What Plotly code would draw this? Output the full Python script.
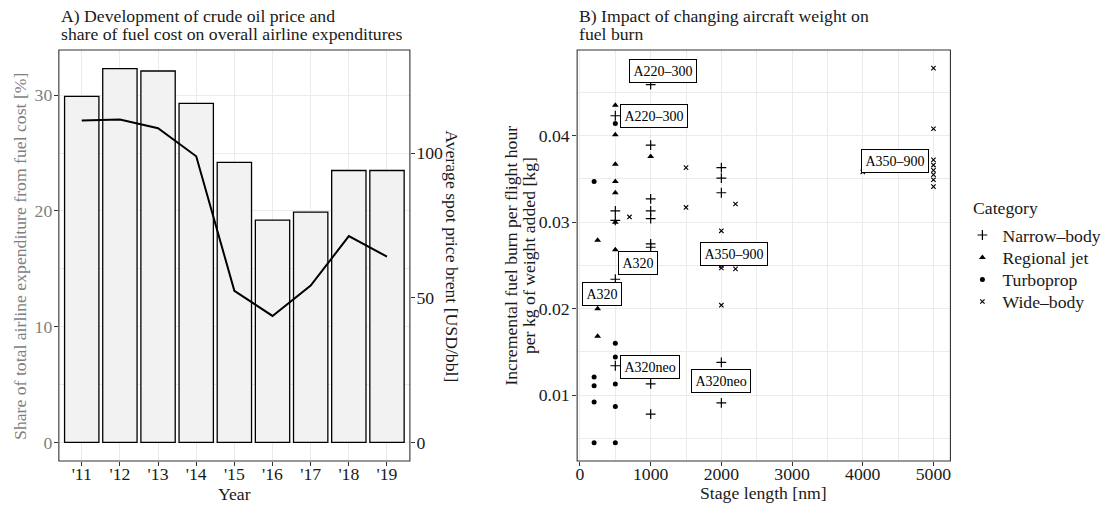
import plotly.graph_objects as go

# ---------------- Data ----------------
years = ["'11", "'12", "'13", "'14", "'15", "'16", "'17", "'18", "'19"]
fuel_share = [29.9, 32.3, 32.1, 29.3, 24.2, 19.2, 19.9, 23.5, 23.5]
brent_price = [111.3, 111.6, 108.6, 98.9, 52.4, 43.7, 54.2, 71.3, 64.2]

narrow_x = [1000, 500, 1000, 2000, 2000, 2000, 1000, 500, 1000, 1000, 500, 1000, 1000, 500, 500, 2000, 1000, 2000, 1000]
narrow_y = [0.0459, 0.0423, 0.0389, 0.0363, 0.0351, 0.0334, 0.0327, 0.0313, 0.0313, 0.0304, 0.0302,
            0.0275, 0.0271, 0.0234, 0.0134, 0.0138, 0.0113, 0.0091, 0.0078]

regional_x = [500, 500, 1000, 500, 500, 500, 500, 250, 500, 250, 250]
regional_y = [0.0435, 0.0401, 0.0376, 0.0367, 0.0347, 0.0334, 0.0300, 0.0279, 0.0268, 0.0200, 0.0168]

turbo_x = [500, 200, 500, 500, 200, 200, 500, 200, 500, 200, 500]
turbo_y = [0.0414, 0.0347, 0.0160, 0.0144, 0.0121, 0.0111, 0.0113, 0.0092, 0.0087, 0.0045, 0.0045]

wide_x = [5000, 5000, 5000, 5000, 5000, 5000, 5000, 5000, 4000, 1500, 2000, 2200, 1500, 700, 2000, 2000, 2200, 2000]
wide_y = [0.0478, 0.0408, 0.0372, 0.0366, 0.0360, 0.0355, 0.0349, 0.0341, 0.0358, 0.0363, 0.0290,
          0.0321, 0.0317, 0.0306, 0.0250, 0.0247, 0.0246, 0.0204]

categories = ["Narrow–body", "Regional jet", "Turboprop", "Wide–body"]

label_text = ["A220–300", "A220–300", "A320", "A320", "A350–900", "A350–900", "A320neo", "A320neo"]
label_x = [1173, 1047, 817, 313, 2176, 4449, 994, 1991]
label_y = [0.04745, 0.04229, 0.0253, 0.02173, 0.02634, 0.03709, 0.0133, 0.01169]

# ---------------- Styling ----------------
W, H = 1109, 507
FONT = "Liberation Serif"
FS = 17.7
GRID = "#EBEBEB"
BORDER = "#333333"
TXT = "#1A1A1A"
GREY = "#7F7F7F"


def px(x):
    return x / W


def py(y):
    return 1 - y / H


fig = go.Figure()

# Left panel: bars + line
fig.add_trace(go.Bar(
    x=years, y=fuel_share, width=0.9,
    marker=dict(color="#F2F2F2", line=dict(color="black", width=1.3)),
    xaxis="x", yaxis="y", showlegend=False))
fig.add_trace(go.Scatter(
    x=years, y=brent_price, mode="lines",
    line=dict(color="black", width=2),
    xaxis="x", yaxis="y2", showlegend=False))

# Right panel: scatter (each category gets its own single-item legend)
marker_styles = [
    dict(symbol="cross-thin-open", size=7, color="black", line=dict(width=1.2, color="black")),
    dict(symbol="triangle-up", size=6, color="black", line=dict(width=0)),
    dict(symbol="circle", size=5, color="black", line=dict(width=0)),
    dict(symbol="x-thin-open", size=4.4, color="black", line=dict(width=1.1, color="black")),
]
series = [(narrow_x, narrow_y), (regional_x, regional_y), (turbo_x, turbo_y), (wide_x, wide_y)]
legend_ids = ["legend", "legend2", "legend3", "legend4"]
for name, (xs, ys), mk, lg in zip(categories, series, marker_styles, legend_ids):
    fig.add_trace(go.Scatter(x=xs, y=ys, mode="markers", name=name, marker=mk,
                             xaxis="x2", yaxis="y3", legend=lg))

tick_common = dict(ticks="outside", ticklen=4, tickcolor=BORDER, tickwidth=1,
                   showline=False, zeroline=False)

legend_rows = [235.5, 258, 280, 302]
legend_common = dict(xanchor="left", yanchor="middle", font=dict(size=FS, color=TXT),
                     bgcolor="rgba(0,0,0,0)", itemwidth=30, borderwidth=0)

fig.update_layout(
    width=W, height=H,
    margin=dict(l=0, r=0, t=0, b=0),
    paper_bgcolor="white", plot_bgcolor="white",
    font=dict(family=FONT, size=FS, color=TXT),
    xaxis=dict(domain=[px(57), px(409)], anchor="y", type="category", range=[-0.6, 8.6],
               showgrid=True, gridcolor=GRID, gridwidth=1, ticklabelstandoff=-7,
               tickfont=dict(size=FS, color=TXT), **tick_common),
    yaxis=dict(domain=[py(461), py(50)], anchor="x", range=[-1.615, 33.915],
               tick0=0, dtick=10, showgrid=True, gridcolor=GRID, gridwidth=1,
               minor=dict(dtick=5, showgrid=True, gridcolor=GRID, gridwidth=0.5),
               ticklabelstandoff=-2,
               tickfont=dict(size=FS, color=GREY), **tick_common),
    yaxis2=dict(overlaying="y", side="right", anchor="x", range=[-6.46, 135.66],
                tickvals=[0, 50, 100], showgrid=False, ticklabelstandoff=-2,
                tickfont=dict(size=FS, color=TXT), **tick_common),
    xaxis2=dict(domain=[px(576.7), px(951)], anchor="y3", range=[-40, 5240],
                tick0=0, dtick=1000, showgrid=True, gridcolor=GRID, gridwidth=1,
                minor=dict(dtick=500, showgrid=True, gridcolor=GRID, gridwidth=0.5),
                ticklabelstandoff=-7,
                tickfont=dict(size=FS, color=TXT), **tick_common),
    yaxis3=dict(domain=[py(461), py(50)], anchor="x2", range=[0.00239, 0.0499],
                tick0=0, dtick=0.01, tickformat=".2f", showgrid=True, gridcolor=GRID, gridwidth=1,
                minor=dict(dtick=0.005, showgrid=True, gridcolor=GRID, gridwidth=0.5),
                ticklabelstandoff=-1,
                tickfont=dict(size=FS, color=TXT), **tick_common),
)
for lg, ry in zip(legend_ids, legend_rows):
    fig.update_layout({lg: dict(x=px(963), y=py(ry), **legend_common)})

# Panel borders
for xr, yr in (("x", "y"), ("x2", "y3")):
    fig.add_shape(type="rect", xref=f"{xr} domain", yref=f"{yr} domain",
                  x0=0, x1=1, y0=0, y1=1, line=dict(color=BORDER, width=1.1),
                  fillcolor="rgba(0,0,0,0)", layer="above")

ann = []
# Panel titles (two lines each)
ann += [
    dict(text="A) Development of crude oil price and", x=px(57), y=py(15.5), xanchor="left", yanchor="middle"),
    dict(text="share of fuel cost on overall airline expenditures", x=px(57), y=py(34), xanchor="left", yanchor="middle"),
    dict(text="B) Impact of changing aircraft weight on", x=px(577), y=py(15.5), xanchor="left", yanchor="middle"),
    dict(text="fuel burn", x=px(577), y=py(34), xanchor="left", yanchor="middle"),
]
# Axis titles & legend title
ann += [
    dict(text="Year", x=px(233), y=py(494), xanchor="center", yanchor="middle"),
    dict(text="Stage length [nm]", x=px(764), y=py(493), xanchor="center", yanchor="middle"),
    dict(text="Share of total airline expenditure from fuel cost [%]", x=px(18), y=py(256),
         textangle=-90, xanchor="center", yanchor="middle", font=dict(color=GREY)),
    dict(text="Average spot price brent [USD/bbl]", x=px(451), y=py(256),
         textangle=90, xanchor="center", yanchor="middle"),
    dict(text="Incremental fuel burn per flight hour", x=px(510), y=py(256),
         textangle=-90, xanchor="center", yanchor="middle"),
    dict(text="per kg of weight added [kg]", x=px(528.5), y=py(256),
         textangle=-90, xanchor="center", yanchor="middle"),
    dict(text="Category", x=px(972), y=py(208), xanchor="left", yanchor="middle"),
]
for a in ann:
    a.update(xref="paper", yref="paper", showarrow=False)
    f = dict(family=FONT, size=FS, color=TXT)
    f.update(a.get("font", {}))
    a["font"] = f

# Point labels
for t, lx, ly in zip(label_text, label_x, label_y):
    ann.append(dict(text=t, x=lx, y=ly, xref="x2", yref="y3", showarrow=False,
                    xanchor="center", yanchor="middle",
                    font=dict(family=FONT, size=14, color="black"),
                    bgcolor="white", bordercolor="black", borderwidth=1, borderpad=3.5))

fig.update_layout(annotations=ann)

fig.write_html("out.html")
